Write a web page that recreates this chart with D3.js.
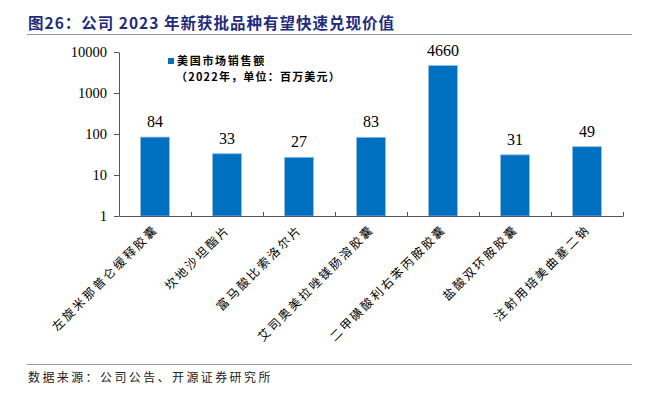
<!DOCTYPE html>
<html>
<head>
<meta charset="utf-8">
<script src="https://cdn.jsdelivr.net/npm/d3@7"></script>
<style>
  body { margin: 0; background: #fff; }
  svg { display: block; }
</style>
</head>
<body>
<div id="chart-area"></div>
<script>
var width = 657,
	height = 395;

// data
var drugs = ["左旋米那普仑缓释胶囊", "坎地沙坦酯片", "富马酸比索洛尔片", "艾司奥美拉唑镁肠溶胶囊",
	"二甲磺酸利右苯丙胺胶囊", "盐酸双环胺胶囊", "注射用培美曲塞二钠"];
var sales = [84, 33, 27, 83, 4660, 31, 49];
var yTicks = [1, 10, 100, 1000, 10000];

// plot box
var plotLeft = 119, plotRight = 623, plotTop = 52, plotBottom = 216;
var cjk = "'Noto Sans CJK SC', sans-serif";
var serif = "'Liberation Serif', 'Times New Roman', serif";

var svg = d3.select("#chart-area")
		.append("svg")
		.attr("width", width)
		.attr("height", height);

// title
svg.append("text")
		.attr("x", 28)
		.attr("y", 29)
		.attr("font-family", cjk)
		.attr("font-weight", "bold")
		.attr("font-size", 15.5)
		.attr("letter-spacing", 1)
		.attr("fill", "#1f2c7c")
		.text("图26：公司 2023 年新获批品种有望快速兑现价值");

svg.append("line")
		.attr("x1", 27).attr("x2", 632)
		.attr("y1", 34.5).attr("y2", 34.5)
		.attr("stroke", "#999").attr("stroke-width", 1);

var x = d3.scaleBand()
		.domain(drugs)
		.range([plotLeft, plotRight])
		.paddingInner(0.6)
		.paddingOuter(0.3);

var y = d3.scaleLog()
		.domain([1, 10000])
		.range([plotBottom, plotTop]);

// bars
svg.selectAll("rect.bar")
		.data(sales)
		.enter()
		.append("rect")
		.attr("class", "bar")
		.attr("x", function(d, i){ return x(drugs[i]); })
		.attr("width", x.bandwidth())
		.attr("y", function(d){ return y(d); })
		.attr("height", function(d){ return plotBottom - y(d); })
		.attr("fill", "#0070c0")
		.attr("stroke", "#8dbbe6")
		.attr("stroke-width", 0.8);

// value labels
svg.selectAll("text.val")
		.data(sales)
		.enter()
		.append("text")
		.attr("class", "val")
		.attr("x", function(d, i){ return x(drugs[i]) + x.bandwidth() / 2; })
		.attr("y", function(d){ return y(d) - 10; })
		.attr("text-anchor", "middle")
		.attr("font-family", serif)
		.attr("font-size", 16)
		.attr("fill", "#000")
		.text(function(d){ return d; });

// y axis
var yAxis = d3.axisLeft(y)
		.tickValues(yTicks)
		.tickFormat(d3.format("d"))
		.tickSize(5)
		.tickSizeOuter(0)
		.tickPadding(7);

var gy = svg.append("g")
		.attr("transform", "translate(" + plotLeft + ",0)")
		.call(yAxis);
gy.select(".domain").attr("stroke", "#555");
gy.selectAll(".tick line").attr("stroke", "#555");
gy.selectAll("text")
		.attr("font-family", serif)
		.attr("font-size", 14.5)
		.attr("fill", "#000");

// x axis: ticks between categories, pointing up
var xb = d3.scaleLinear().domain([0, drugs.length]).range([plotLeft, plotRight]);
var xAxis = d3.axisBottom(xb)
		.tickValues(d3.range(1, drugs.length + 1))
		.tickSize(-4)
		.tickSizeOuter(0)
		.tickFormat("");
var gx = svg.append("g")
		.attr("transform", "translate(0," + plotBottom + ")")
		.call(xAxis);
gx.select(".domain").attr("stroke", "#555");
gx.selectAll(".tick line").attr("stroke", "#555");

// category labels
svg.selectAll("text.cat")
		.data(drugs)
		.enter()
		.append("text")
		.attr("class", "cat")
		.attr("transform", function(d){
			return "translate(" + (x(d) + x.bandwidth() / 2 + 4) + "," + (plotBottom + 14) + ") rotate(-45)";
		})
		.attr("text-anchor", "end")
		.attr("font-family", cjk)
		.attr("font-size", 12)
		.attr("letter-spacing", 2.4)
		.attr("fill", "#000")
		.text(function(d){ return d; });

// legend
svg.append("rect")
		.attr("x", 168).attr("y", 58)
		.attr("width", 6).attr("height", 6)
		.attr("fill", "#0070c0");
svg.append("text")
		.attr("x", 177).attr("y", 65)
		.attr("font-family", cjk)
		.attr("font-weight", "bold")
		.attr("font-size", 11)
		.attr("letter-spacing", 1.7)
		.attr("fill", "#000")
		.text("美国市场销售额");
svg.append("text")
		.attr("x", 176).attr("y", 81)
		.attr("font-family", cjk)
		.attr("font-weight", "bold")
		.attr("font-size", 11)
		.attr("letter-spacing", 1.2)
		.attr("fill", "#000")
		.text("（2022年，单位：百万美元）");

// footer
svg.append("line")
		.attr("x1", 27).attr("x2", 632)
		.attr("y1", 364.5).attr("y2", 364.5)
		.attr("stroke", "#999").attr("stroke-width", 1);
svg.append("text")
		.attr("x", 28)
		.attr("y", 382)
		.attr("font-family", cjk)
		.attr("font-size", 12)
		.attr("letter-spacing", 2.4)
		.attr("fill", "#222")
		.text("数据来源：公司公告、开源证券研究所");
</script>
</body>
</html>
